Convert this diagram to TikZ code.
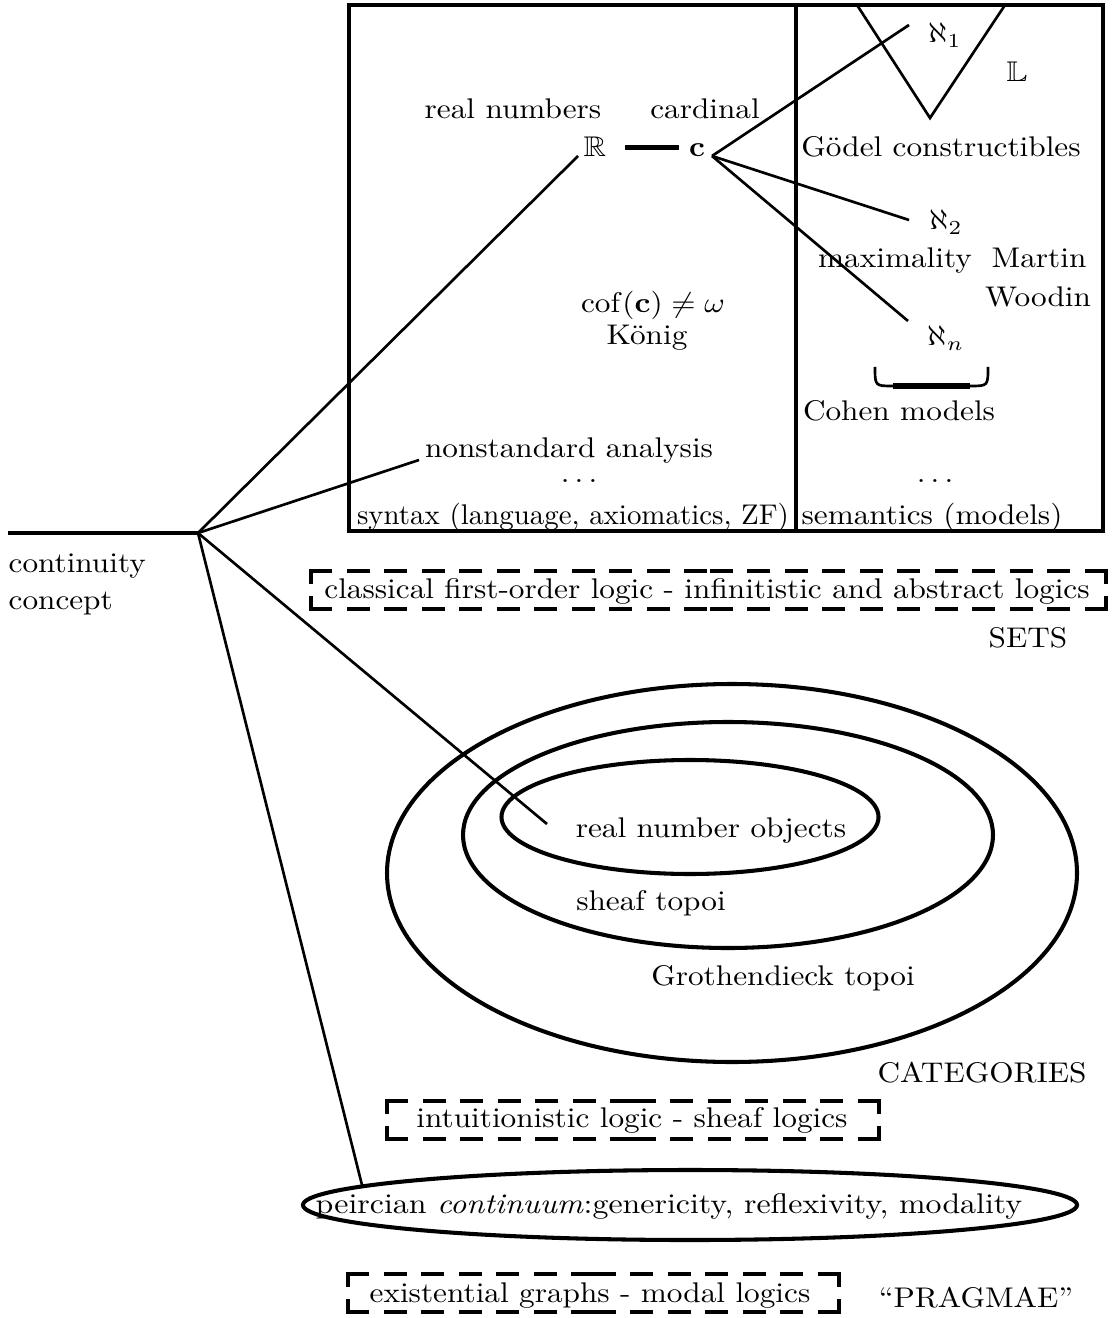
\documentclass[tikz,border=0pt]{standalone}
\usepackage{amssymb}
\usetikzlibrary{shapes.geometric}

% dashed frame with bracket-like corners around a (text-less) box node
\newcommand\dashframe[1]{%
  \draw[dline] (#1.north west) -- (#1.north);
  \draw[dline] (#1.north east) -- (#1.north);
  \draw[dline] (#1.south west) -- (#1.south);
  \draw[dline] (#1.south east) -- (#1.south);
  \draw[cline] (#1.north west) -- ++(0,11);
  \draw[cline] (#1.south west) -- ++(0,-11);
  \draw[cline] (#1.north east) -- ++(0,11);
  \draw[cline] (#1.south east) -- ++(0,-11);}

\begin{document}
\begin{tikzpicture}[x=0.32pt,y=-0.32pt,
  lbl/.style={anchor=base,inner sep=0pt,yscale=0.91},
  frame/.style={line width=1.2pt},
  link/.style={line width=0.85pt},
  bar/.style={line width=1.5pt},
  dline/.style={line width=1.3pt,line cap=rect,dash pattern=on 6pt off 6pt},
  cline/.style={line width=1.3pt,line cap=rect},
  boxarea/.style={inner sep=0pt,minimum height=11.52pt},
  ring/.style={draw,ellipse,line width=1.3pt,inner sep=0pt}]
\useasboundingbox (0,0) rectangle (1113,1318);

% ---------- SETS: syntax / semantics frame ----------
\draw[frame] (349,5) rectangle (1103,531);
\draw[frame] (796,5) -- (796,531);

% wedge of the constructible universe
\coordinate (Ltl) at (857,5);
\coordinate (Lap) at (930,118);
\coordinate (Ltr) at (1005,5);
\draw[link] (Ltl) -- (Lap) -- (Ltr);

\node[lbl] (realnum)  at (513,119) {real numbers};
\node[lbl] (cardinal) at (705,119) {cardinal};
\node[lbl] (R)        at (595,157) {$\mathbb{R}$};
\node[lbl] (c)        at (697,157) {$\mathbf{c}$};
\node[lbl] (a1)       at (945,43)  {$\aleph_1$};
\node[lbl] (L)        at (1017,82) {$\mathbb{L}$};
\node[lbl] (godel)    at (941,157) {G\"odel constructibles};
\node[lbl] (a2)       at (946,230) {$\aleph_2$};
\node[lbl] (maxi)     at (895,268) {maximality};
\node[lbl] (martin)   at (1039,268) {Martin};
\node[lbl] (woodin)   at (1038,307) {Woodin};
\node[lbl] (cof)      at (653,313) {$\mathrm{cof}(\mathbf{c})\neq\omega$};
\node[lbl] (konig)    at (647,345) {K\"onig};
\node[lbl] (an)       at (946,346) {$\aleph_n$};
\node[lbl] (cohen)    at (899,421) {Cohen models};
\node[lbl] (nsa)      at (569,458) {nonstandard analysis};
\node[lbl] (dotsl)    at (579,483) {$\dots$};
\node[lbl] (dotsr)    at (935,483) {$\dots$};
\node[lbl,xscale=0.925] (syn) at (573,525) {syntax (language, axiomatics, ZF)};
\node[lbl] (sem)      at (932,525) {semantics (models)};

% R -- c
\draw[bar,shorten <=5.8pt,shorten >=3pt] (R.east) -- (R.east -| c.west);

% c fans out to the alephs
\coordinate (cfan) at (712,156);
\coordinate (a1end) at (909,25);
\coordinate (a2end) at (909,220);
\coordinate (anend) at (908,321);
\draw[link] (cfan) -- (a1end);
\draw[link] (cfan) -- (a2end);
\draw[link] (cfan) -- (anend);

% brace under aleph_n
\draw[link] (875,367) .. controls (875,386) .. (893,386) -- (970,386)
            .. controls (988,386) .. (988,367);
\draw[line width=1.7pt] (893,386) -- (970,386);

% ---------- logics of sets ----------
\node[boxarea,minimum width=253.8pt] (folbox) at (708.5,590) {};
\dashframe{folbox}
\node[lbl] (fol) at (707,598) {classical first-order logic - infinitistic and abstract logics};
\node[lbl] (sets) at (1028,647) {SETS};

% ---------- CATEGORIES ----------
\node[ring,minimum width=220.8pt,minimum height=120.96pt] (groth) at (732,873) {};
\node[ring,minimum width=169.6pt,minimum height=72.32pt]  (sheaf) at (728,835) {};
\node[ring,minimum width=120.64pt,minimum height=36.48pt] (rno)   at (690,817) {};
\node[lbl] (rnotxt)   at (711,837) {real number objects};
\node[lbl] (sheaftxt) at (651,910) {sheaf topoi};
\node[lbl] (grothtxt) at (783,985) {Grothendieck topoi};
\node[lbl] (cats)     at (982,1082) {CATEGORIES};

\node[boxarea,minimum width=156.8pt] (intbox) at (633,1120) {};
\dashframe{intbox}
\node[lbl] (intu) at (632,1127) {intuitionistic logic - sheaf logics};

% ---------- PRAGMAE ----------
\node[ring,minimum width=247.7pt,minimum height=22.4pt] (peirce) at (690,1205) {};
\node[lbl,xscale=1.02] (peircetxt) at (669,1213) {peircian \emph{continuum}:genericity, reflexivity, modality};

\node[boxarea,minimum width=156.5pt] (egbox) at (593.5,1293) {};
\dashframe{egbox}
\node[lbl] (eg) at (590,1302) {existential graphs - modal logics};
\node[lbl] (prag) at (976,1307) {``PRAGMAE''};

% ---------- continuity concept and its branches ----------
\coordinate (hub) at (198,533);
\coordinate (start) at (8,533);
\node[lbl,anchor=base west] (cont) at (8,572) {continuity};
\node[lbl,anchor=base west] (conc) at (8,609) {concept};
\draw[line width=1.3pt] (start) -- (hub);

\coordinate (Rfoot) at (578,156);
\coordinate (nsaend) at (419,460);
\coordinate (rnoend) at (547,824);
\coordinate (peirceend) at (362,1185);
\draw[link] (hub) -- (Rfoot);
\draw[link] (hub) -- (nsaend);
\draw[link] (hub) -- (rnoend);
\draw[link] (hub) -- (peirceend);
\end{tikzpicture}
\end{document}
